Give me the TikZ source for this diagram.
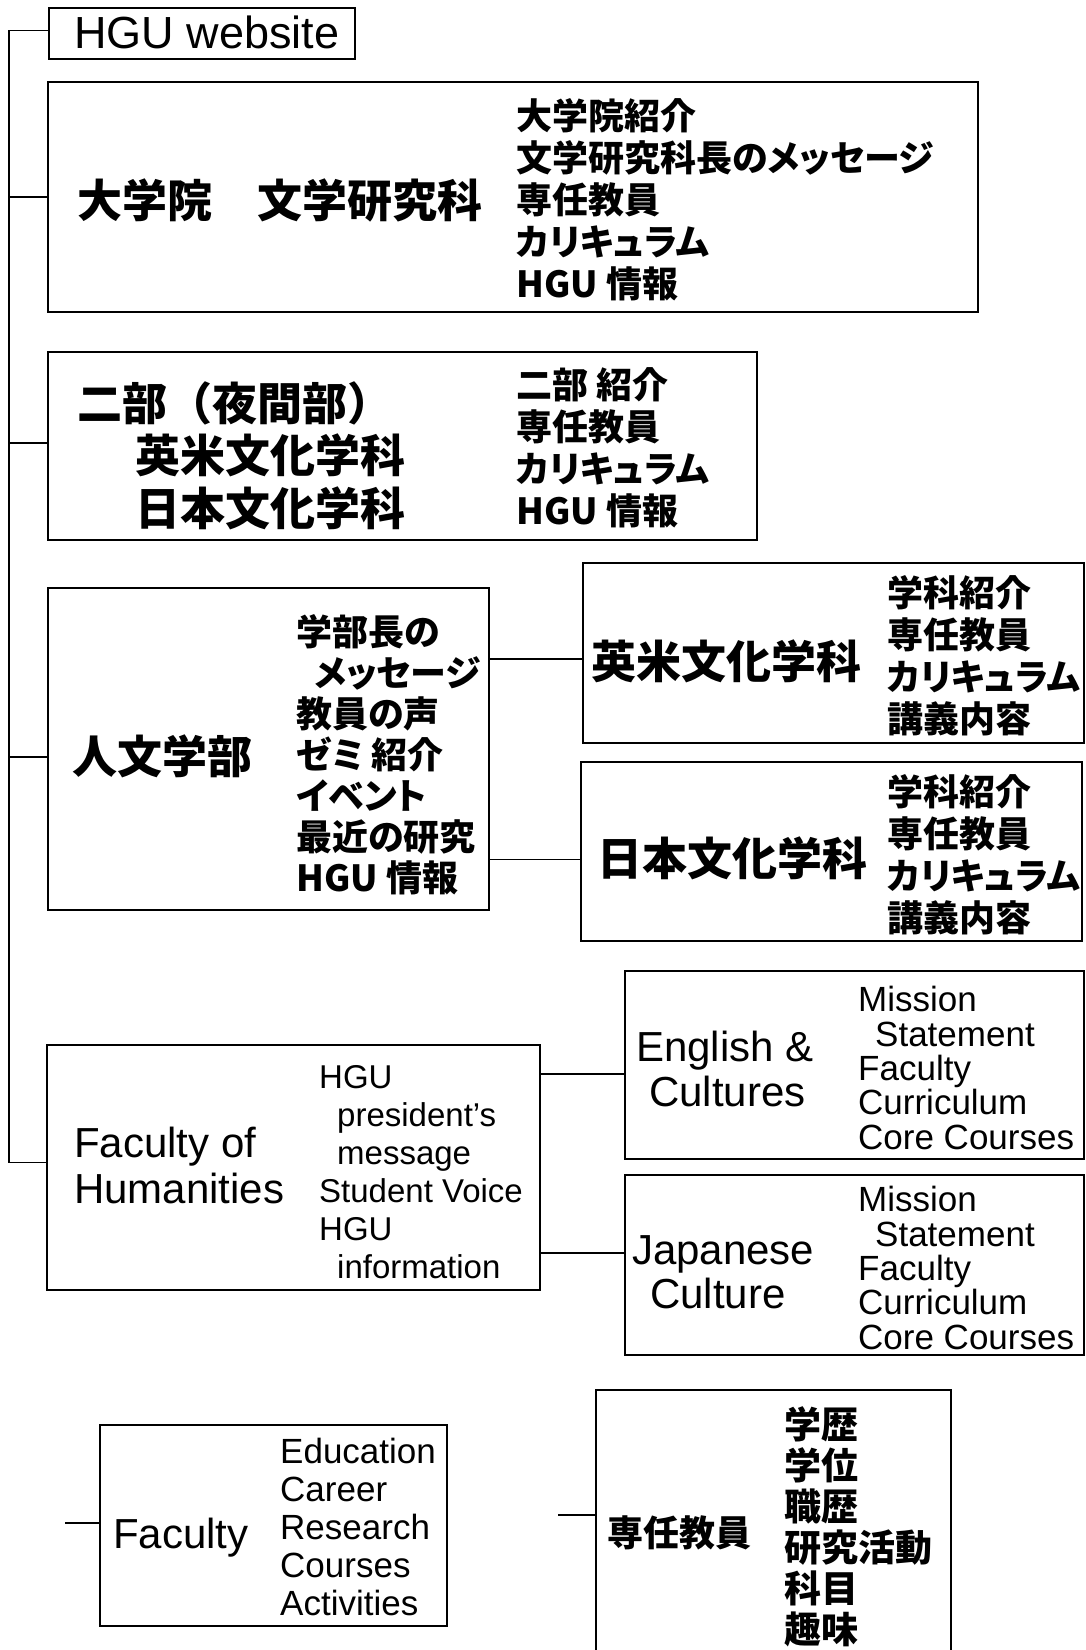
\documentclass[tikz,border=0pt]{standalone}
\usepackage{fontspec}
\setmainfont{Liberation Sans}
\newfontfamily\cjk{Noto Sans CJK JP}
\newfontfamily\cjkp[RawFeature=+palt]{Noto Sans CJK JP}
\tikzset{
  box/.style={draw, line width=1.8pt, inner sep=0pt, anchor=north west},
  conn/.style={line width=1.5pt},
  txt/.style={anchor=base west, inner sep=0pt, align=left},
  jt/.style={txt, font=\cjk\bfseries\fontsize{45}{52.5}\selectfont},
  jl/.style={txt, font=\cjkp\bfseries\fontsize{36}{42}\selectfont},
  et/.style={txt, font=\fontsize{42}{45}\selectfont},
  el/.style={txt, font=\fontsize{35}{34.3}\selectfont},
}
\begin{document}
\begin{tikzpicture}[x=1pt, y=-1pt]
\fill[white] (0,0) rectangle (1085,1650);
\useasboundingbox (0,0) rectangle (1085,1650);
\coordinate (trunk) at (9,0);
% boxes
\node[box, minimum width=306pt, minimum height=51pt] (hgu) at (48,7) {};
\node[box, minimum width=930pt, minimum height=230pt] (b1) at (47,81) {};
\node[box, minimum width=709pt, minimum height=188pt] (b2) at (47,351) {};
\node[box, minimum width=441pt, minimum height=322pt] (b3) at (47,587) {};
\node[box, minimum width=501pt, minimum height=180pt] (b4) at (582,562) {};
\node[box, minimum width=501pt, minimum height=179pt] (b5) at (580,761) {};
\node[box, minimum width=493pt, minimum height=245pt] (b6) at (46,1044) {};
\node[box, minimum width=459pt, minimum height=188pt] (b7) at (624,970) {};
\node[box, minimum width=459pt, minimum height=180pt] (b8) at (624,1174) {};
\node[box, minimum width=347pt, minimum height=201pt] (b9) at (99,1424) {};
\node[box, minimum width=355pt, minimum height=290pt] (b10) at (595,1389) {};
% texts (multi-line nodes: base = baseline of last line)
\node[txt, font=\fontsize{45}{50}\selectfont] (t0) at (74,48) {HGU website};
\node[jt] (t1) at (77,217) {大学院　文学研究科};
\node[jl] (l1) at (516,297) {大学院紹介\\文学研究科長のメッセージ\\専任教員\\カリキュラム\\HGU 情報};
\node[jt] (t2) at (77,525) {二部（夜間部）\\\hspace*{58pt}英米文化学科\\\hspace*{58pt}日本文化学科};
\node[jl] (l2) at (516,524) {二部 紹介\\専任教員\\カリキュラム\\HGU 情報};
\node[jt] (t3) at (72,773) {人文学部};
\node[jl, font=\cjkp\bfseries\fontsize{36}{41}\selectfont] (l3) at (296,891) {学部長の\\\hspace*{18pt}メッセージ\\教員の声\\ゼミ 紹介\\イベント\\最近の研究\\HGU 情報};
\node[jt] (t4) at (591,678) {英米文化学科};
\node[jl] (l4) at (887,732) {学科紹介\\専任教員\\カリキュラム\\講義内容};
\node[jt] (t5) at (597,875) {日本文化学科};
\node[jl] (l5) at (887,931) {学科紹介\\専任教員\\カリキュラム\\講義内容};
\node[et, font=\fontsize{42}{46}\selectfont] (t6) at (74,1203) {Faculty of\\Humanities};
\node[txt, font=\fontsize{33}{38}\selectfont] (l6) at (319,1278) {HGU\\\hspace*{18pt}president’s\\\hspace*{18pt}message\\Student Voice\\HGU\\\hspace*{18pt}information};
\node[et] (t7) at (636,1106) {English \&\\\hspace*{13pt}Cultures};
\node[el] (l7) at (858,1149) {Mission\\\hspace*{17pt}Statement\\Faculty\\Curriculum\\Core Courses};
\node[et, font=\fontsize{42}{44}\selectfont] (t8) at (632,1308) {Japanese\\\hspace*{18pt}Culture};
\node[el] (l8) at (858,1349) {Mission\\\hspace*{17pt}Statement\\Faculty\\Curriculum\\Core Courses};
\node[et] (t9) at (113,1548) {Faculty};
\node[txt, font=\fontsize{35}{37.8}\selectfont] (l9) at (280,1615) {Education\\Career\\Research\\Courses\\Activities};
\node[txt, font=\cjk\bfseries\fontsize{36}{42}\selectfont] (t10) at (607,1546) {専任教員};
\node[txt, font=\cjk\bfseries\fontsize{37}{41}\selectfont] (l10) at (784,1643) {学歴\\学位\\職歴\\研究活動\\科目\\趣味};
% connectors
\coordinate (c0) at ([yshift=3pt]hgu.west);
\coordinate (c6) at ([yshift=5pt]b6.west);
\draw[conn] (c0) -- (c0 -| trunk) -- (c6 -| trunk) -- (c6);
\draw[conn] (b1.west -| trunk) -- (b1.west);
\coordinate (c2) at ([yshift=3pt]b2.west);
\draw[conn] (c2 -| trunk) -- (c2);
\coordinate (c3) at ([yshift=-8pt]b3.west);
\draw[conn] (c3 -| trunk) -- (c3);
\coordinate (c4) at ([yshift=-6pt]b4.west);
\draw[conn] (c4 -| b3.east) -- (c4);
\coordinate (c5) at ([yshift=-8pt]b5.west);
\draw[conn] (c5 -| b3.east) -- (c5);
\coordinate (c7) at ([yshift=-9pt]b7.west);
\draw[conn] (c7 -| b6.east) -- (c7);
\coordinate (c8) at ([yshift=12pt]b8.west);
\draw[conn] (c8 -| b6.east) -- (c8);
\coordinate (s9) at (65,1523);
\draw[conn] (s9) -- (s9 -| b9.west);
\coordinate (s10) at (558,1515);
\draw[conn] (s10) -- (s10 -| b10.west);
\end{tikzpicture}
\end{document}
